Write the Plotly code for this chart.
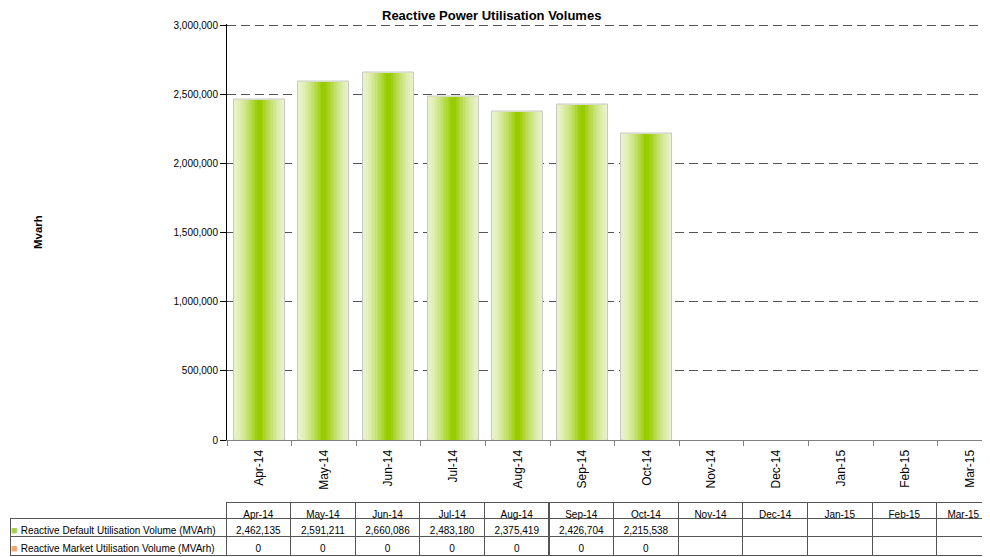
import plotly.graph_objects as go

months = ["Apr-14", "May-14", "Jun-14", "Jul-14", "Aug-14", "Sep-14",
          "Oct-14", "Nov-14", "Dec-14", "Jan-15", "Feb-15", "Mar-15"]
default_vol = [2462135, 2591211, 2660086, 2483180, 2375419, 2426704, 2215538,
               None, None, None, None, None]
market_vol = [0, 0, 0, 0, 0, 0, 0, None, None, None, None, None]
row_labels = ["Reactive Default Utilisation Volume (MVArh)",
              "Reactive Market Utilisation Volume (MVArh)"]
row_colors = ["#a6cf4a", "#f2ab66"]

# page body has an 8px margin, so work in screen px and shift
OFF = 8
W, H = 990 - OFF, 557 - OFF


def px(x):
    return (x - OFF) / W


def py(y):
    return 1 - (y - OFF) / H


fig = go.Figure()

# "cylinder" look: nested overlay bars, light at edges to green in the middle
light = (233, 242, 203)
green = (153, 204, 0)
n = 16
bar_w = 0.79
for i in range(n):
    t = i / (n - 1)
    f = 1 - t * 0.9
    c = t ** 1.4
    rgb = tuple(round(light[k] + (green[k] - light[k]) * c) for k in range(3))
    fig.add_trace(go.Bar(
        x=months, y=default_vol, width=bar_w * f,
        marker=dict(color="rgb(%d,%d,%d)" % rgb,
                    line=dict(color="#c8c8c8" if i == 0 else "rgba(0,0,0,0)",
                              width=1 if i == 0 else 0)),
        showlegend=False, hoverinfo="skip" if i else None,
    ))


def fmt(v):
    return "" if v is None else f"{v:,}"


nb = "\u00a0"
cells = [[nb + lab.replace(" ", nb) for lab in row_labels]]
for a, b in zip(default_vol, market_vol):
    cells.append([fmt(a), fmt(b)])

colw = [216] + [64.6] * 11 + [990 - 226 - 64.6 * 11]
tfont = dict(family="Liberation Sans, Arial", size=10, color="black")
fig.add_trace(go.Table(
    domain=dict(x=[px(10), 1], y=[0, py(502)]),
    columnwidth=colw,
    header=dict(values=[""] + months,
                line=dict(color=["rgba(0,0,0,0)"] + ["#555555"] * 12, width=1),
                fill=dict(color="white"), font=tfont,
                align="center", height=16),
    cells=dict(values=cells,
               line=dict(color="#555555", width=1),
               fill=dict(color="white"), font=tfont,
               align=["left"] + ["center"] * 12, height=18.5),
))

annotations = [
    dict(text="<b>Reactive Power Utilisation Volumes</b>", x=px(491),
         y=py(15), xref="paper", yref="paper", showarrow=False,
         font=dict(size=13), xanchor="center", yanchor="middle"),
    dict(text="<b>Mvarh</b>", x=px(38), y=py(232), xref="paper",
         yref="paper", showarrow=False, textangle=-90,
         font=dict(size=11.5), xanchor="center", yanchor="middle"),
]
# little colour keys in front of the table row labels
for k, col in enumerate(row_colors):
    annotations.append(dict(text="■", x=px(14.5), y=py(529.5 + 18.5 * k),
                            xref="paper", yref="paper", showarrow=False,
                            font=dict(size=11, color=col),
                            xanchor="center", yanchor="middle"))

fig.update_layout(
    width=W, height=H,
    barmode="overlay", bargap=0,
    paper_bgcolor="white", plot_bgcolor="white",
    margin=dict(l=0, r=0, t=0, b=0),
    font=dict(family="Liberation Sans, Arial", size=10, color="black"),
    showlegend=False,
    xaxis=dict(domain=[px(227), 1], range=[-0.5, 11.31],
               type="category", tickangle=-90, tickson="boundaries",
               ticks="outside", ticklen=5, tickcolor="#808080",
               ticklabelstandoff=4,
               showline=True, linecolor="#808080", linewidth=1,
               showgrid=False, automargin=False,
               tickfont=dict(size=12)),
    yaxis=dict(domain=[py(440), py(23.5)], range=[0, 3011000],
               dtick=500000, tickformat=",", ticks="outside", ticklen=6,
               tickcolor="black", showline=True, linecolor="black",
               linewidth=1, showgrid=True, gridcolor="#555555",
               griddash="9px,5px", gridwidth=1, zeroline=False,
               automargin=False, tickfont=dict(size=10)),
    annotations=annotations,
)

fig.write_html("out.html")
